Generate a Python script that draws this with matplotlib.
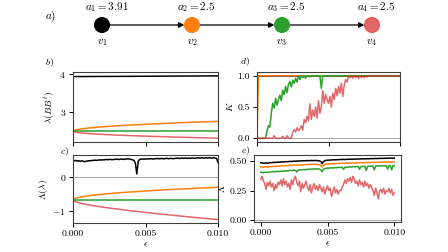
import numpy as np
import matplotlib.pyplot as plt

plt.rcParams['font.family'] = 'serif'
plt.rcParams['font.serif'] = ['cmr10', 'DejaVu Serif']
plt.rcParams['mathtext.fontset'] = 'cm'
plt.rcParams['axes.formatter.use_mathtext'] = True
plt.rcParams['font.size'] = 7
plt.rcParams['axes.unicode_minus'] = True

C_ORANGE = '#ff7f0e'
C_GREEN = '#2ca02c'
C_RED = '#d62728'

# ===== network =====
node_vals = ['3.91', '2.5', '2.5', '2.5']
node_colors = ['black', C_ORANGE, C_GREEN, C_RED]

# ===== b) and c): smooth spectra =====
eps_s = [0, 0.0001, 0.0003, 0.0006, 0.001, 0.0015, 0.002, 0.003, 0.004,
         0.005, 0.006, 0.007, 0.008, 0.009, 0.01]
lam_black = [3.930, 3.930, 3.931, 3.931, 3.932, 3.933, 3.934, 3.935, 3.937,
             3.939, 3.941, 3.943, 3.945, 3.947, 3.949]
lam_orange = [2.500, 2.526, 2.545, 2.564, 2.582, 2.601, 2.616, 2.642, 2.664,
              2.684, 2.701, 2.718, 2.733, 2.747, 2.760]
lam_green = [2.5] * 15
lam_red = [2.500, 2.482, 2.469, 2.456, 2.443, 2.430, 2.420, 2.401, 2.386,
           2.373, 2.361, 2.349, 2.339, 2.329, 2.320]

Lam_orange = [-0.680, -0.643, -0.616, -0.589, -0.563, -0.537, -0.515, -0.477,
              -0.446, -0.418, -0.393, -0.370, -0.349, -0.329, -0.310]
Lam_green = [-0.69] * 15
Lam_red = [-0.680, -0.720, -0.752, -0.785, -0.820, -0.857, -0.890, -0.948,
           -1.000, -1.049, -1.095, -1.138, -1.180, -1.221, -1.260]
Lam_black = [0.48, 0.47, 0.48, 0.46, 0.47, 0.45, 0.47, 0.46, 0.44, 0.46,
             0.46, 0.47, 0.47, 0.48, 0.48, 0.49, 0.48, 0.49, 0.49, 0.50,
             0.49, 0.50, 0.50, 0.51, 0.50, 0.51, 0.51, 0.50, 0.51, 0.51,
             0.52, 0.51, 0.51, 0.52, 0.52, 0.51, 0.52, 0.52, 0.53, 0.52,
             0.51, 0.50, 0.48, 0.40, 0.08, 0.46, 0.51, 0.52, 0.52, 0.52,
             0.52, 0.53, 0.52, 0.53, 0.53, 0.52, 0.53, 0.53, 0.54, 0.53,
             0.53, 0.54, 0.53, 0.53, 0.54, 0.54, 0.53, 0.54, 0.54, 0.53,
             0.54, 0.54, 0.55, 0.54, 0.54, 0.55, 0.54, 0.55, 0.55, 0.54,
             0.55, 0.54, 0.55, 0.55, 0.54, 0.55, 0.56, 0.55, 0.55, 0.56,
             0.55, 0.55, 0.56, 0.55, 0.56, 0.55, 0.55, 0.56, 0.55, 0.54,
             0.42]

# ===== d) K =====
K_black = [1.0] * 101
K_orange = [0.0] + [1.0] * 100
K_green = [0, 0, 0, 0, 0, 0, 0, 0.12, 0.20, 0.18,
           0.40, 0.56, 0.48, 0.64, 0.53, 0.62, 0.69, 0.60, 0.77, 0.70,
           0.83, 0.73, 0.86, 0.91, 0.82, 0.93, 0.88, 0.96, 0.90, 1.0,
           0.94, 1.0, 0.97, 1.0, 0.96, 1.0, 1.0, 0.98, 1.0, 1.0,
           1, 1, 1, 1, 1, 0.80, 1, 1, 1, 1] + [1.0] * 51
K_red = [0, 0, 0, 0, 0, 0, 0, 0, 0, 0,
         0, 0, 0.04, 0, 0, 0, 0, 0, 0.03, 0,
         0, 0.04, 0, 0, 0, 0.10, 0.14, 0.10, 0.17, 0.12,
         0.15, 0.20, 0.13, 0.30, 0.25, 0.35, 0.28, 0.55, 0.30, 0.45,
         0.35, 0.50, 0.32, 0.60, 0.40, 0.50, 0.76, 0.56, 0.70, 0.62,
         0.56, 0.67, 0.50, 0.72, 0.62, 0.80, 0.68, 0.83, 0.72, 0.88,
         0.67, 0.85, 0.94, 0.90, 1.0, 0.97, 1.0, 0.96, 1.0, 0.97,
         1.0, 0.96, 1.0, 0.97, 1.0, 0.97, 1.0, 0.98, 1.0, 1.0] + [1.0] * 21

# ===== e) Lambda =====
E_black = [0.485, 0.483, 0.480, 0.482, 0.484, 0.480, 0.483, 0.486, 0.485, 0.487,
           0.488, 0.487, 0.489, 0.490, 0.489, 0.491, 0.492, 0.491, 0.493, 0.494,
           0.493, 0.495, 0.496, 0.495, 0.497, 0.498, 0.497, 0.499, 0.500, 0.499,
           0.500, 0.501, 0.502, 0.501, 0.502, 0.503, 0.502, 0.503, 0.504, 0.503,
           0.503, 0.504, 0.503, 0.502, 0.500, 0.495, 0.478, 0.495, 0.502, 0.505,
           0.506, 0.507, 0.508, 0.508, 0.509, 0.510, 0.509, 0.510, 0.511, 0.511,
           0.512, 0.512, 0.513, 0.512, 0.513, 0.514, 0.514, 0.515, 0.514, 0.515,
           0.516, 0.515, 0.516, 0.517, 0.516, 0.517, 0.518, 0.517, 0.518, 0.518,
           0.519, 0.518, 0.519, 0.520, 0.519, 0.520, 0.521, 0.520, 0.521, 0.521,
           0.522, 0.521, 0.522, 0.522, 0.523, 0.522, 0.523, 0.523, 0.524, 0.523,
           0.524]
E_orange = [0.452, 0.448, 0.445, 0.450, 0.452, 0.447, 0.450, 0.453, 0.451, 0.454,
            0.455, 0.453, 0.456, 0.457, 0.455, 0.458, 0.459, 0.457, 0.460, 0.461,
            0.460, 0.462, 0.463, 0.461, 0.464, 0.465, 0.463, 0.466, 0.467, 0.465,
            0.467, 0.468, 0.466, 0.469, 0.470, 0.468, 0.470, 0.471, 0.470, 0.472,
            0.471, 0.472, 0.470, 0.469, 0.468, 0.462, 0.448, 0.462, 0.470, 0.474,
            0.475, 0.476, 0.475, 0.477, 0.476, 0.478, 0.477, 0.479, 0.478, 0.480,
            0.479, 0.481, 0.480, 0.478, 0.482, 0.481, 0.480, 0.483, 0.482, 0.484,
            0.483, 0.482, 0.485, 0.484, 0.483, 0.486, 0.485, 0.484, 0.487, 0.486,
            0.485, 0.488, 0.487, 0.486, 0.489, 0.488, 0.487, 0.489, 0.488, 0.490,
            0.489, 0.488, 0.490, 0.489, 0.491, 0.490, 0.489, 0.491, 0.490, 0.492,
            0.491]
E_green = [0.405, 0.403, 0.400, 0.404, 0.406, 0.402, 0.405, 0.408, 0.406, 0.409,
           0.410, 0.408, 0.411, 0.413, 0.410, 0.414, 0.415, 0.412, 0.416, 0.417,
           0.415, 0.418, 0.420, 0.418, 0.421, 0.422, 0.420, 0.405, 0.423, 0.425,
           0.424, 0.426, 0.427, 0.425, 0.428, 0.430, 0.428, 0.431, 0.430, 0.432,
           0.433, 0.431, 0.434, 0.433, 0.430, 0.425, 0.410, 0.430, 0.436, 0.438,
           0.440, 0.438, 0.441, 0.442, 0.440, 0.443, 0.444, 0.442, 0.445, 0.446,
           0.444, 0.447, 0.430, 0.446, 0.448, 0.447, 0.449, 0.450, 0.448, 0.451,
           0.452, 0.450, 0.453, 0.451, 0.430, 0.452, 0.454, 0.453, 0.455, 0.420,
           0.452, 0.456, 0.454, 0.457, 0.455, 0.425, 0.456, 0.458, 0.457, 0.459,
           0.457, 0.458, 0.460, 0.459, 0.461, 0.430, 0.460, 0.462, 0.425, 0.461,
           0.460]
E_red = [0.345, 0.370, 0.330, 0.310, 0.260, 0.320, 0.290, 0.330, 0.280, 0.310,
         0.250, 0.300, 0.270, 0.320, 0.300, 0.340, 0.290, 0.350, 0.300, 0.330,
         0.280, 0.310, 0.260, 0.340, 0.300, 0.350, 0.370, 0.320, 0.290, 0.330,
         0.240, 0.310, 0.270, 0.300, 0.330, 0.280, 0.250, 0.300, 0.230, 0.280,
         0.310, 0.260, 0.290, 0.250, 0.300, 0.270, 0.240, 0.280, 0.220, 0.260,
         0.290, 0.250, 0.270, 0.200, 0.240, 0.280, 0.230, 0.260, 0.220, 0.250,
         0.250, 0.280, 0.300, 0.340, 0.310, 0.350, 0.330, 0.360, 0.320, 0.370,
         0.350, 0.310, 0.330, 0.290, 0.340, 0.300, 0.320, 0.280, 0.330, 0.290,
         0.310, 0.270, 0.300, 0.280, 0.250, 0.210, 0.270, 0.230, 0.180, 0.250,
         0.260, 0.230, 0.270, 0.220, 0.250, 0.240, 0.270, 0.230, 0.260, 0.210,
         0.230]


def grid(series):
    return np.linspace(0, 0.01, len(series))


W, H = 448, 252
fig = plt.figure(figsize=(W / 100, H / 100), dpi=100)


def px_axes(left, top, right, bottom):
    return fig.add_axes([left / W, 1 - bottom / H, (right - left) / W, (bottom - top) / H])


# ===== a) network =====
ax_net = px_axes(0, 0, W, 50)
ax_net.axis('off')
node_pos = np.arange(len(node_vals))
ax_net.set_xlim(-102 / 90, 3 + (W - 372) / 90)
ax_net.set_ylim(-1, 1)
for i in range(len(node_pos) - 1):
    ax_net.annotate('', xy=(node_pos[i + 1], 0), xytext=(node_pos[i], 0),
                    arrowprops=dict(arrowstyle='-|>', color='black', lw=0.9,
                                    shrinkA=5.5, shrinkB=5.5, mutation_scale=8))
ax_net.scatter(node_pos, np.zeros(len(node_pos)), s=115, c=node_colors, zorder=3,
               alpha=[1, 1, 1, 0.7], edgecolors=node_colors, linewidths=0.8)
for i, v in enumerate(node_vals):
    ax_net.text(node_pos[i] + 0.05, 0.72, r'$a_{%d} = %s$' % (i + 1, v),
                ha='center', va='center', fontsize=8)
    ax_net.text(node_pos[i], -0.72, r'$v_{%d}$' % (i + 1), ha='center', va='center', fontsize=8)
fig.text(51 / W, 1 - 17 / H, r'$a)$', ha='center', va='center', fontsize=8)

# ===== panels =====
ax_b = px_axes(73, 72, 218, 142)
ax_c = px_axes(73, 155, 218, 223)
ax_d = px_axes(257, 72, 400, 142)
ax_e = px_axes(254, 155, 401, 222)

lw = 1.1
ax_b.plot(eps_s, lam_black, color='black', lw=lw)
ax_b.plot(eps_s, lam_orange, color=C_ORANGE, lw=lw)
ax_b.plot(eps_s, lam_green, color=C_GREEN, lw=lw)
ax_b.plot(eps_s, lam_red, color=C_RED, lw=lw, alpha=0.7)
ax_b.set_xlim(0, 0.01)
ax_b.set_ylim(2.22, 4.05)
ax_b.set_yticks([3, 4])
ax_b.set_ylabel(r'$\lambda(BB^t)$', labelpad=2)

ax_c.axhline(0, color='0.6', lw=0.6)
ax_c.plot(grid(Lam_black), Lam_black, color='black', lw=lw)
ax_c.plot(eps_s, Lam_orange, color=C_ORANGE, lw=lw)
ax_c.plot(eps_s, Lam_green, color=C_GREEN, lw=lw)
ax_c.plot(eps_s, Lam_red, color=C_RED, lw=lw, alpha=0.7)
ax_c.set_xlim(0, 0.01)
ax_c.set_ylim(-1.36, 0.64)
ax_c.set_yticks([-1, 0])
ax_c.set_ylabel(r'$\Lambda(\lambda)$', labelpad=2)
ax_c.set_xlabel(r'$\epsilon$', labelpad=2)

ax_d.axhline(0, color='0.6', lw=0.6)
ax_d.plot(grid(K_black), K_black, color='black', lw=lw)
ax_d.plot(grid(K_orange), K_orange, color=C_ORANGE, lw=lw)
ax_d.plot(grid(K_green), K_green, color=C_GREEN, lw=lw)
ax_d.plot(grid(K_red), K_red, color=C_RED, lw=lw, alpha=0.7)
ax_d.set_xlim(0, 0.01)
ax_d.set_ylim(-0.06, 1.06)
ax_d.set_yticks([0, 0.5, 1.0])
ax_d.set_ylabel(r'$K$', labelpad=2)

ax_e.axhline(0, color='0.6', lw=0.6)
ax_e.plot(grid(E_black), E_black, color='black', lw=lw)
ax_e.plot(grid(E_orange), E_orange, color=C_ORANGE, lw=lw)
ax_e.plot(grid(E_green), E_green, color=C_GREEN, lw=lw)
ax_e.plot(grid(E_red), E_red, color=C_RED, lw=lw, alpha=0.7)
ax_e.set_xlim(-0.0005, 0.0105)
ax_e.set_ylim(-0.015, 0.55)
ax_e.set_yticks([0, 0.25, 0.5])
ax_e.set_ylabel(r'$\Lambda$', labelpad=2)
ax_e.set_xlabel(r'$\epsilon$', labelpad=2)

for ax in [ax_b, ax_c, ax_d, ax_e]:
    ax.set_xticks([0, 0.005, 0.01])
    for s in ax.spines.values():
        s.set_color('0.25')
        s.set_linewidth(0.8)
    ax.tick_params(length=3, width=0.7, pad=2, labelsize=7)
for ax in [ax_b, ax_d]:
    ax.tick_params(labelbottom=False)
for ax in [ax_c, ax_e]:
    ax.set_xticklabels(['0.000', '0.005', '0.010'])
ax_d.set_yticklabels(['0.0', '0.5', '1.0'])
ax_e.set_yticklabels(['0.00', '0.25', '0.50'])

fig.text(50 / W, 1 - 63 / H, r'$b)$', ha='center', va='center', fontsize=7)
fig.text(65 / W, 1 - 152 / H, r'$c)$', ha='center', va='center', fontsize=7)
fig.text(245 / W, 1 - 62 / H, r'$d)$', ha='center', va='center', fontsize=7)
fig.text(246 / W, 1 - 151 / H, r'$e)$', ha='center', va='center', fontsize=7)

fig.savefig('out.png', dpi=100)
